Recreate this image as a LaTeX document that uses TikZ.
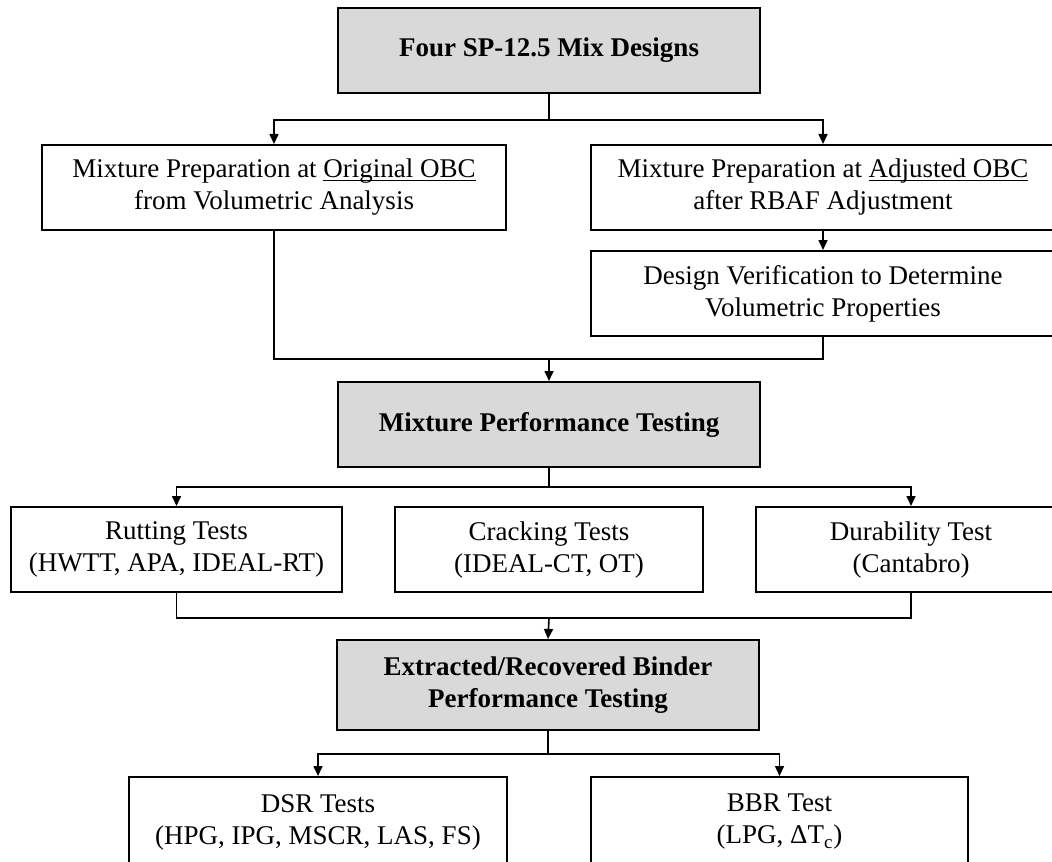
\documentclass[tikz,border=0pt]{standalone}
\usepackage{fontspec}
\setmainfont{Liberation Serif}
\usetikzlibrary{arrows.meta,positioning}
\newcommand\obcline[1]{\setbox0\hbox{#1}\rlap{\rule[-1.7pt]{\wd0}{0.5pt}}\box0}

\begin{document}
\begin{tikzpicture}[
        x=0.5pt, y=-0.5pt,
        box/.style={draw, line width=1pt, align=center, inner sep=0pt,
            font=\fontsize{13.5pt}{16pt}\selectfont,
            minimum height=42.5pt},
        head/.style={box, fill=black!15, font=\fontsize{13.5pt}{16pt}\selectfont\bfseries},
        arr/.style={-{Triangle[length=5pt, width=4.5pt]}, line width=0.8pt},
        conn/.style={line width=0.8pt}
    ]
        \useasboundingbox (0,0) rectangle (1052,861);
        \clip (0,0) rectangle (1052,861);
        \node[head, minimum width=211pt] (four) at (549,50.5) {Four SP-12.5 Mix Designs};
        \node[box, minimum width=232pt] (prepo) at (274,187.5) {Mixture Preparation at \obcline{Original OBC}\\from Volumetric Analysis};
        \node[box, minimum width=232pt] (prepa) at (823,187.5) {Mixture Preparation at \obcline{Adjusted OBC}\\after RBAF Adjustment};
        \node[box, minimum width=232pt] (verif) at (823,293.5) {Design Verification to Determine\\Volumetric Properties};
        \node[head, minimum width=211pt] (mix) at (549,424.5) {Mixture Performance Testing};
        \node[box, minimum width=165.5pt] (rut) at (176.5,549.5) {Rutting Tests\\(HWTT, APA, IDEAL-RT)};
        \node[box, minimum width=154pt] (crack) at (549,549.5) {Cracking Tests\\(IDEAL-CT, OT)};
        \node[box, minimum width=155pt] (dura) at (911,549.5) {Durability Test\\(Cantabro)};
        \node[head, minimum width=211pt, minimum height=45pt] (ext) at (548,685) {Extracted/Recovered Binder\\Performance Testing};
        \node[box, minimum width=189pt, minimum height=45pt] (dsr) at (318,822) {DSR Tests\\(HPG, IPG, MSCR, LAS, FS)};
        \node[box, minimum width=188.5pt, minimum height=45pt] (bbr) at (779.5,822) {BBR Test\\(LPG, ΔT\textsubscript{c})};
        \coordinate (j1) at (549,359);
        \coordinate (j2) at (549,618);
        \draw[arr] (four.south) -- ++(0,26) -| (prepo.north);
        \draw[arr] (four.south) -- ++(0,26) -| (prepa.north);
        \draw[arr] (prepa.south) -- (verif.north);
        \draw[conn] (prepo.south) |- (j1);
        \draw[conn] (verif.south) |- (j1);
        \draw[arr] (j1) -- (mix.north);
        \draw[arr] (mix.south) -- ++(0,19) -| (rut.north);
        \draw[arr] (mix.south) -- ++(0,19) -| (dura.north);
        \draw[conn] (rut.south) |- (j2);
        \draw[conn] (dura.south) |- (j2);
        \draw[arr] (j2) -- (ext.north);
        \draw[arr] (ext.south) -- ++(0,23) -| (dsr.north);
        \draw[arr] (ext.south) -- ++(0,23) -| (bbr.north);
    \end{tikzpicture}
\end{document}
